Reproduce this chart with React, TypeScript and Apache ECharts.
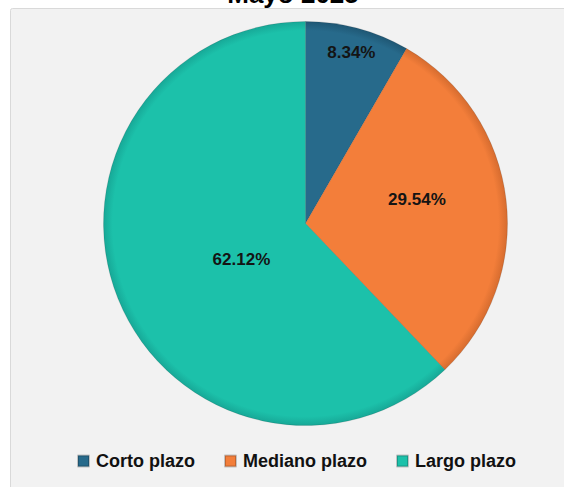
import React, { useEffect, useRef } from "react";
import * as echarts from "echarts";

const titleText = "Mayo 2025";
const categories = ["Corto plazo", "Mediano plazo", "Largo plazo"];
const values = [8.34, 29.54, 62.12];
const colors = ["#276a8b", "#f37e3a", "#1cc1aa"];
const edgeColors = ["#1f5774", "#d66c2f", "#17a897"];

// label placement (layout only): radial band and angular shift of each label ring
const labelRadius: [number, number][] = [
  [142, 206],
  [0, 222],
  [0, 141],
];
const labelShift = [0, 5.4, 7.5];

const CX = 305.5;
const CY = 223.5;
const R = 202;

export default function App() {
  const ref = useRef<HTMLDivElement>(null);
  useEffect(() => {
    if (!ref.current) return;
    const chart = echarts.init(ref.current, undefined, { renderer: "svg" });
    const grad = (i: number) => ({
      type: "radial",
      x: CX,
      y: CY,
      r: R,
      global: true,
      colorStops: [
        { offset: 0, color: colors[i] },
        { offset: 0.955, color: colors[i] },
        { offset: 1, color: edgeColors[i] },
      ],
    });
    const labelSeries = categories.map((_, k) => ({
      type: "pie",
      center: [CX, CY],
      radius: labelRadius[k],
      startAngle: 90 + labelShift[k],
      clockwise: true,
      silent: true,
      z: 5,
      emphasis: { disabled: true },
      itemStyle: { color: "transparent", borderWidth: 0 },
      labelLine: { show: false },
      label: {
        show: false,
        position: "inside",
        formatter: (p: any) => `${Number(p.value).toFixed(2)}%`,
        fontFamily: "Liberation Sans, Arial, sans-serif",
        fontSize: 17,
        fontWeight: "bold",
        color: "#141414",
      },
      data: categories.map((name, i) => ({
        name,
        value: values[i],
        label: { show: i === k },
      })),
    }));
    chart.setOption({
      animation: false,
      backgroundColor: "#ffffff",
      title: {
        text: titleText,
        left: 293,
        textAlign: "center",
        top: -19,
        padding: 0,
        textStyle: {
          fontFamily: "Liberation Sans, Arial, sans-serif",
          fontSize: 26,
          fontWeight: "bold",
          color: "#000000",
        },
      },
      graphic: [
        {
          type: "rect",
          z: 0,
          shape: { x: 10.5, y: 8.5, width: 600, height: 520, r: 2 },
          style: { fill: "#f2f2f2", stroke: "#d9d9d9", lineWidth: 1 },
        },
      ],
      legend: {
        left: 77,
        top: 452,
        padding: 0,
        itemWidth: 11,
        itemHeight: 11,
        itemGap: 29,
        icon: "rect",
        selectedMode: false,
        textStyle: {
          fontFamily: "Liberation Sans, Arial, sans-serif",
          fontSize: 18,
          fontWeight: "bold",
          color: "#111111",
          padding: [0, 0, 0, 2],
        },
        data: categories.map((name, i) => ({
          name,
          itemStyle: { color: colors[i] },
        })),
      },
      series: [
        {
          type: "pie",
          center: [CX, CY],
          radius: R,
          startAngle: 90,
          clockwise: true,
          z: 2,
          emphasis: { disabled: true },
          label: { show: false },
          labelLine: { show: false },
          itemStyle: { borderWidth: 0.6, borderColor: "rgba(0,0,0,0.2)" },
          data: categories.map((name, i) => ({
            name,
            value: values[i],
            itemStyle: { color: grad(i) },
          })),
        },
        ...labelSeries,
      ],
    });
    return () => chart.dispose();
  }, []);
  return (
    <div
      ref={ref}
      style={{ position: "fixed", left: 0, top: 0, width: 564, height: 487 }}
    />
  );
}
